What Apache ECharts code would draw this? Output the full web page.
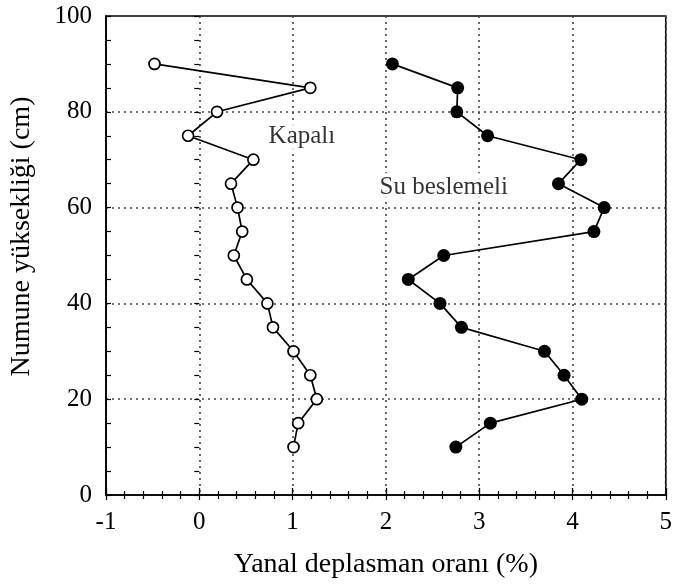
<!DOCTYPE html>
<html>
<head>
<meta charset="utf-8">
<script src="https://cdn.jsdelivr.net/npm/echarts@6/dist/echarts.min.js"></script>
<style>
  html, body { margin: 0; padding: 0; background: #fff; }
  #chart { width: 675px; height: 586px; }
</style>
</head>
<body>
<div id="chart"></div>
<script>
// Sample heights (cm)
const heights = [90, 85, 80, 75, 70, 65, 60, 55, 50, 45, 40, 35, 30, 25, 20, 15, 10];
// Lateral drift ratio (%) – sealed specimen
const kapali = [-0.48, 1.19, 0.19, -0.12, 0.58, 0.34, 0.41, 0.46, 0.37, 0.51, 0.73, 0.79, 1.01, 1.19, 1.26, 1.06, 1.01];
// Lateral drift ratio (%) – water-fed specimen
const suBeslemeli = [2.07, 2.77, 2.76, 3.09, 4.09, 3.85, 4.34, 4.23, 2.62, 2.24, 2.58, 2.81, 3.70, 3.91, 4.10, 3.12, 2.75];

// Curve labels: text and anchor in data coordinates
const labelTexts = ['Kapalı', 'Su beslemeli'];
const labelX = [1.10, 2.62];
const labelY = [74.8, 64.2];

const xTicks = [-1, 0, 1, 2, 3, 4, 5];
const yTicks = [0, 20, 40, 60, 80, 100];

const FONT = '"Liberation Serif", "DejaVu Serif", serif';

const pairs = (xs, ys) => xs.map((v, i) => [v, ys[i]]);

const chart = echarts.init(document.getElementById('chart'), null, { renderer: 'canvas' });

const gridColor = '#444';

chart.setOption({
  backgroundColor: '#fff',
  animation: false,
  grid: {
    left: 104, right: 8, top: 16, bottom: 91,
    show: true, borderColor: '#000', borderWidth: 1.6, backgroundColor: 'transparent'
  },
  xAxis: [{
    type: 'value',
    min: xTicks[0], max: xTicks[xTicks.length - 1], interval: 1,
    name: 'Yanal deplasman oranı (%)',
    nameLocation: 'middle', nameGap: 56,
    nameTextStyle: { fontFamily: FONT, fontSize: 28, color: '#000' },
    axisLine: { show: true, onZero: false, lineStyle: { color: '#000', width: 1.6 } },
    axisTick: { show: true, inside: true, length: 7, lineStyle: { color: '#000', width: 1.3 } },
    minorTick: { show: true, splitNumber: 5, length: 4, lineStyle: { color: '#000', width: 1.2 } },
    axisLabel: { fontFamily: FONT, fontSize: 25, color: '#000', margin: 15 },
    splitLine: { show: true, lineStyle: { color: gridColor, type: [2, 4], width: 1.6 } }
  }, {
    type: 'value', position: 'top',
    min: xTicks[0], max: xTicks[xTicks.length - 1], interval: 1,
    axisLine: { show: false },
    axisTick: { show: true, inside: true, length: 5, lineStyle: { color: '#000', width: 1.2 } },
    minorTick: { show: true, splitNumber: 5, length: 4, lineStyle: { color: '#000', width: 1.2 } },
    axisLabel: { show: false },
    splitLine: { show: false }
  }],
  yAxis: [{
    type: 'value',
    min: yTicks[0], max: yTicks[yTicks.length - 1], interval: 20,
    name: 'Numune yüksekliği (cm)',
    nameLocation: 'middle', nameGap: 70,
    nameTextStyle: { fontFamily: FONT, fontSize: 28, color: '#000', padding: [0, 0, 0, 38] },
    axisLine: { show: true, onZero: false, lineStyle: { color: '#000', width: 1.6 } },
    axisTick: { show: true, inside: true, length: 5, lineStyle: { color: '#000', width: 1.2 } },
    minorTick: { show: true, splitNumber: 4, length: 5, lineStyle: { color: '#000', width: 1.2 } },
    axisLabel: { fontFamily: FONT, fontSize: 25, color: '#000', margin: 14 },
    splitLine: { show: true, lineStyle: { color: gridColor, type: [2, 4], width: 1.6 } }
  }, {
    type: 'value', position: 'right',
    min: yTicks[0], max: yTicks[yTicks.length - 1], interval: 20,
    axisLine: { show: false },
    axisTick: { show: true, inside: true, length: 5, lineStyle: { color: '#000', width: 1.2 } },
    minorTick: { show: true, splitNumber: 4, length: 5, lineStyle: { color: '#000', width: 1.2 } },
    axisLabel: { show: false },
    splitLine: { show: false }
  }],
  series: [{
    name: 'Kapalı',
    type: 'line',
    data: pairs(kapali, heights),
    symbol: 'circle', symbolSize: 11,
    itemStyle: { color: '#fff', borderColor: '#000', borderWidth: 1.7 },
    lineStyle: { color: '#000', width: 1.7 },
    z: 3
  }, {
    name: 'Su beslemeli',
    type: 'line',
    data: pairs(suBeslemeli, heights),
    symbol: 'circle', symbolSize: 13,
    itemStyle: { color: '#000', borderColor: '#000', borderWidth: 0 },
    lineStyle: { color: '#000', width: 1.7 },
    z: 3
  }, {
    name: 'labels',
    type: 'scatter',
    data: labelTexts.map((t, i) => ({ value: [labelX[i], labelY[i]], name: t })),
    symbolSize: 0,
    silent: true,
    z: 4,
    label: {
      show: true, position: 'inside',
      formatter: p => p.name,
      fontFamily: FONT, fontSize: 25, color: '#000',
      backgroundColor: '#fff', padding: [2, 3]
    }
  }]
});
</script>
</body>
</html>
